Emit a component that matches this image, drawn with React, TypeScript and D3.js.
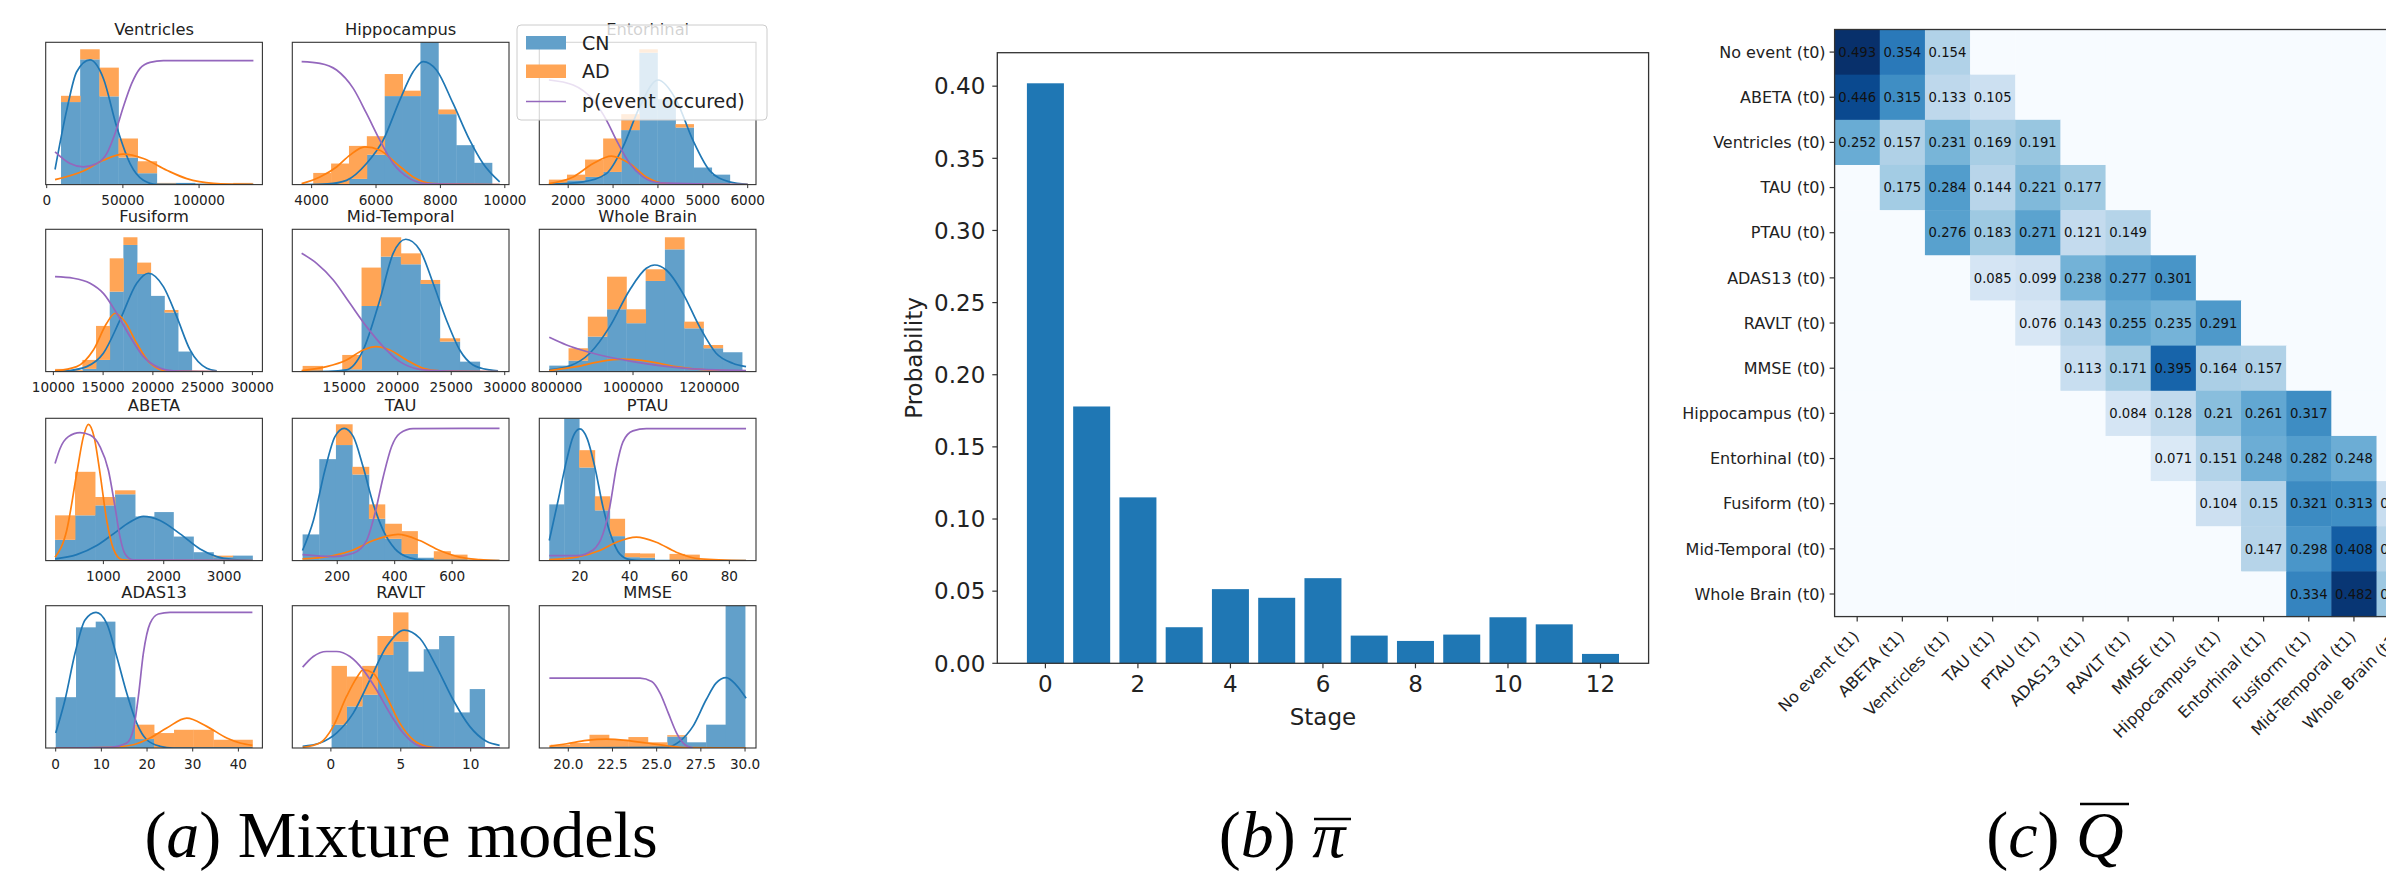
import React from "react";
import * as d3 from "d3";

// ---------- panel (a): mixture models ----------
const panelTitles = ["Ventricles", "Hippocampus", "Entorhinal", "Fusiform", "Mid-Temporal", "Whole Brain", "ABETA", "TAU", "PTAU", "ADAS13", "RAVLT", "MMSE"];

const panelDomains = [
  [-660, 141560], [3400, 10130], [1356, 6185],
  [9230, 31005], [10146, 30400], [754783, 1321739],
  [44, 3635], [43.5, 798], [3.73, 90.7],
  [-2.19, 45.26], [-2.76, 12.74], [18.36, 30.62],
];

const panelTicks = [
  [0, 50000, 100000], [4000, 6000, 8000, 10000], [2000, 3000, 4000, 5000, 6000],
  [10000, 15000, 20000, 25000, 30000], [15000, 20000, 25000, 30000], [800000, 1000000, 1200000],
  [1000, 2000, 3000], [200, 400, 600], [20, 40, 60, 80],
  [0, 10, 20, 30, 40], [0, 5, 10], [20, 22.5, 25, 27.5, 30],
];

const binEdges = [
  [9400, 21960, 34520, 47080, 59640, 72200, 84760, 97320, 109880, 122440, 135000],
  [4050, 4605, 5160, 5715, 6270, 6825, 7380, 7935, 8490, 9045, 9600],
  [1570, 1973, 2376, 2779, 3182, 3585, 3988, 4391, 4794, 5197, 5600],
  [10168, 11541, 12915, 14288, 15662, 17035, 18409, 19782, 21156, 22529, 23903],
  [11111, 12978, 14813, 16618, 18422, 20289, 22125, 23930, 25796, 27663],
  [780870, 831300, 881700, 932100, 982600, 1033000, 1083400, 1133900, 1184300, 1234700, 1285200],
  [199, 530, 862, 1193, 1525, 1845, 2160, 2492, 2823, 3144, 3470],
  [79.4, 137.4, 195.4, 252.2, 310.1, 365.8, 423.8, 479.4, 536.2, 594.2, 652.2],
  [7.73, 13.73, 19.73, 26, 32, 38, 44, 50, 56, 62, 68],
  [0, 4.45, 8.76, 12.99, 17.37, 21.53, 25.91, 30.15, 34.53, 38.76, 43.07],
  [0.05, 1.12, 2.24, 3.33, 4.45, 5.52, 6.64, 7.74, 8.81, 9.93, 11],
  [19, 20.1, 21.2, 22.3, 23.4, 24.5, 25.6, 26.7, 27.8, 28.9, 30],
];

// bar heights as a share of the axes height (CN at the bottom, AD stacked on it)
const cnCounts = [
  [0.58, 0.88, 0.62, 0.19, 0.08, 0.005, 0.012, 0, 0, 0],
  [0, 0, 0.04, 0.21, 0.622, 0.622, 1.05, 0.495, 0.277, 0.153],
  [0.01, 0.03, 0.054, 0.089, 0.383, 0.927, 0.6, 0.401, 0.12, 0.07],
  [0, 0, 0.019, 0.082, 0.562, 0.89, 0.686, 0.532, 0.415, 0.141],
  [0, 0, 0.016, 0.461, 0.808, 0.754, 0.616, 0.211, 0.07],
  [0.042, 0.077, 0.246, 0.438, 0.34, 0.637, 0.859, 0.304, 0.164, 0.136],
  [0.146, 0.318, 0.388, 0.466, 0.31, 0.341, 0.169, 0.059, 0.024, 0.035],
  [0.184, 0.713, 0.812, 0.605, 0.294, 0.153, 0.047, 0.02, 0, 0],
  [0.395, 1.03, 0.654, 0.353, 0.172, 0.024, 0.02, 0, 0, 0],
  [0.357, 0.848, 0.888, 0.357, 0.063, 0, 0, 0, 0, 0],
  [0.164, 0.292, 0.374, 0.654, 0.748, 0.537, 0.694, 0.787, 0.25, 0.414],
  [0, 0, 0, 0, 0, 0, 0.08, 0.04, 0.164, 1.05],
];

const adCounts = [
  [0.044, 0.071, 0.202, 0.134, 0.084, 0.007, 0, 0.005, 0, 0.012],
  [0.082, 0.148, 0.232, 0.13, 0.155, 0.038, 0, 0.033, 0, 0],
  [0.025, 0.04, 0.122, 0.235, 0.112, 0.024, 0, 0.024, 0, 0],
  [0.019, 0.01, 0.063, 0.239, 0.234, 0.054, 0.08, 0, 0.018, 0],
  [0.04, 0, 0.101, 0.27, 0.136, 0.077, 0.028, 0.023, 0],
  [0, 0.087, 0.14, 0.229, 0.098, 0.082, 0.085, 0.047, 0.023, 0],
  [0.172, 0.306, 0.059, 0.028, 0, 0, 0, 0, 0.011, 0],
  [0, 0, 0.146, 0.054, 0.101, 0.106, 0.16, 0, 0.066, 0.042],
  [0, 0, 0.122, 0.099, 0.122, 0.028, 0.03, 0, 0.047, 0.042],
  [0, 0, 0, 0, 0.101, 0.105, 0.128, 0.128, 0.058, 0.058],
  [0.413, 0.21, 0.203, 0.133, 0.205, 0, 0, 0, 0, 0],
  [0.023, 0.035, 0.093, 0.058, 0.077, 0.04, 0.01, 0, 0, 0],
];

// fitted CN density as [value, share of axes height]
const cnCurves = [
  [[5470, 0.106], [13130, 0.523], [19690, 0.793], [28440, 0.876], [37200, 0.746], [45950, 0.406], [54700, 0.148], [63450, 0.031], [72200, 0.002], [135660, 0]],
  [[3690, 0], [4500, 0.005], [5085, 0.03], [5705, 0.148], [6222, 0.312], [6739, 0.594], [7153, 0.793], [7462, 0.864], [7876, 0.805], [8393, 0.57], [8910, 0.312], [9323, 0.148], [9840, 0.019]],
  [[1570, 0.002], [2333, 0.019], [2852, 0.077], [3222, 0.265], [3593, 0.547], [4000, 0.735], [4407, 0.594], [4778, 0.312], [5148, 0.1], [5593, 0.019], [6000, 0.002]],
  [[10168, 0], [11340, 0.005], [13350, 0.035], [15025, 0.129], [16700, 0.363], [18375, 0.621], [19548, 0.691], [21055, 0.597], [22395, 0.386], [23735, 0.152], [25410, 0.023], [26415, 0.005]],
  [[11018, 0], [13500, 0.002], [15218, 0.012], [16773, 0.152], [18329, 0.504], [19574, 0.831], [20756, 0.93], [22063, 0.855], [23307, 0.621], [24552, 0.363], [25796, 0.152], [27041, 0.047], [28597, 0.012], [29375, 0.005]],
  [[780870, 0.012], [834783, 0.04], [886957, 0.129], [939130, 0.316], [991304, 0.574], [1034783, 0.726], [1056522, 0.749], [1086957, 0.714], [1130435, 0.55], [1173913, 0.316], [1217391, 0.129], [1260870, 0.059], [1295652, 0.035]],
  [[199, 0.012], [558, 0.042], [890, 0.106], [1166, 0.188], [1442, 0.271], [1663, 0.311], [1939, 0.282], [2271, 0.188], [2602, 0.082], [2878, 0.028], [3155, 0.007], [3470, 0]],
  [[79, 0.071], [117, 0.282], [157, 0.635], [192, 0.871], [224, 0.929], [256, 0.871], [290, 0.659], [325, 0.4], [360, 0.212], [401, 0.082], [453, 0.019], [511, 0.002], [765, 0]],
  [[7.73, 0.141], [11.3, 0.424], [14.7, 0.706], [17.3, 0.871], [20, 0.925], [22.9, 0.859], [26, 0.659], [29.3, 0.376], [32.7, 0.165], [36, 0.047], [40, 0.007], [45.3, 0], [86.7, 0]],
  [[0, 0.105], [2.04, 0.339], [4.23, 0.666], [6.42, 0.9], [8.83, 0.953], [11.17, 0.876], [13.36, 0.643], [15.55, 0.386], [17.74, 0.175], [19.93, 0.058], [22.85, 0.012], [25.77, 0], [43.07, 0]],
  [[-2.02, 0.012], [-0.79, 0.035], [0.4, 0.105], [1.6, 0.245], [2.79, 0.479], [3.98, 0.713], [5.24, 0.829], [6.36, 0.771], [7.55, 0.572], [8.74, 0.339], [9.93, 0.152], [11.12, 0.047], [12.07, 0.019]],
  [[18.93, 0], [25.55, 0.005], [26.3, 0.047], [27.05, 0.152], [27.8, 0.339], [28.36, 0.456], [28.93, 0.495], [29.49, 0.444], [30.06, 0.35]],
];

const adCurves = [
  [[5470, 0.035], [24070, 0.096], [37200, 0.171], [50320, 0.214], [63450, 0.183], [78770, 0.101], [91900, 0.042], [109400, 0.009], [135660, 0]],
  [[3690, 0.007], [4258, 0.054], [4775, 0.124], [5189, 0.207], [5654, 0.265], [6119, 0.242], [6636, 0.148], [7153, 0.054], [7773, 0.007], [9840, 0]],
  [[1570, 0.007], [2111, 0.054], [2556, 0.148], [2963, 0.2], [3370, 0.148], [3741, 0.054], [4185, 0.007], [6000, 0]],
  [[10168, 0.005], [12345, 0.035], [14020, 0.152], [15360, 0.34], [16198, 0.41], [17203, 0.351], [18375, 0.199], [19715, 0.059], [21390, 0.005], [26415, 0]],
  [[11018, 0.007], [13351, 0.035], [15218, 0.082], [16773, 0.152], [17956, 0.176], [19263, 0.152], [20818, 0.082], [22374, 0.023], [23930, 0.005], [29375, 0]],
  [[780870, 0.007], [852174, 0.035], [913043, 0.07], [973913, 0.087], [1043478, 0.07], [1113043, 0.035], [1191304, 0.012], [1295652, 0.002]],
  [[199, 0.024], [392, 0.212], [558, 0.612], [669, 0.871], [751, 0.958], [845, 0.871], [945, 0.612], [1055, 0.282], [1166, 0.082], [1304, 0.007], [1497, 0], [3470, 0]],
  [[79, 0.012], [186, 0.035], [256, 0.075], [325, 0.141], [412, 0.184], [487, 0.141], [557, 0.071], [626, 0.024], [696, 0.007], [765, 0]],
  [[7.73, 0.007], [18.7, 0.024], [28, 0.071], [34.7, 0.129], [42.7, 0.165], [50.7, 0.129], [58.7, 0.059], [68, 0.012], [86.7, 0]],
  [[0, 0], [11.9, 0.005], [17, 0.023], [20.66, 0.07], [24.31, 0.14], [28.69, 0.21], [33.07, 0.152], [37.45, 0.07], [40.36, 0.035], [43.07, 0.019]],
  [[-2.02, 0.005], [-0.79, 0.035], [0.17, 0.152], [1.12, 0.362], [1.83, 0.491], [2.31, 0.549], [3.02, 0.526], [3.98, 0.362], [4.93, 0.175], [5.88, 0.058], [6.83, 0.012], [7.79, 0], [12.07, 0]],
  [[18.93, 0.012], [19.91, 0.03], [21.03, 0.054], [22.16, 0.063], [23.28, 0.054], [24.41, 0.035], [25.55, 0.016], [26.67, 0.002], [30.06, 0]],
];

const eventCurves = [
  [[5470, 0.23], [15320, 0.148], [24070, 0.124], [32820, 0.148], [39380, 0.218], [44850, 0.359], [50320, 0.547], [55790, 0.711], [61260, 0.817], [67830, 0.859], [76580, 0.871], [135660, 0.871]],
  [[3690, 0.864], [4258, 0.852], [4775, 0.805], [5292, 0.676], [5705, 0.5], [6119, 0.312], [6532, 0.148], [7049, 0.042], [7566, 0.007], [9840, 0]],
  [[1570, 0.735], [2111, 0.7], [2556, 0.594], [2852, 0.453], [3074, 0.312], [3370, 0.148], [3667, 0.054], [4037, 0.012], [6000, 0]],
  [[10168, 0.667], [12010, 0.656], [13685, 0.621], [15025, 0.55], [16365, 0.41], [17705, 0.246], [19045, 0.105], [20385, 0.035], [22060, 0.005], [26415, 0]],
  [[11018, 0.831], [12418, 0.761], [13974, 0.644], [15529, 0.48], [17085, 0.316], [18640, 0.176], [20196, 0.07], [22063, 0.016], [23930, 0.005], [29375, 0]],
  [[780870, 0.241], [826087, 0.187], [878261, 0.141], [939130, 0.101], [1000000, 0.07], [1069565, 0.042], [1139130, 0.023], [1217391, 0.012], [1295652, 0.007]],
  [[199, 0.682], [282, 0.788], [420, 0.871], [613, 0.899], [779, 0.882], [945, 0.8], [1083, 0.635], [1193, 0.376], [1276, 0.165], [1359, 0.047], [1497, 0.005], [3470, 0]],
  [[79, 0.042], [186, 0.028], [256, 0.052], [302, 0.141], [331, 0.329], [360, 0.588], [389, 0.8], [418, 0.894], [464, 0.927], [765, 0.929]],
  [[7.73, 0.035], [18.7, 0.035], [25.3, 0.075], [29.3, 0.188], [32, 0.376], [34.7, 0.659], [37.3, 0.835], [41.3, 0.912], [46.7, 0.927], [86.7, 0.927]],
  [[0, 0], [11.9, 0.005], [15.55, 0.035], [17, 0.128], [18.1, 0.362], [19.2, 0.666], [20.66, 0.876], [22.48, 0.942], [25.04, 0.953], [43.07, 0.953]],
  [[-2.02, 0.568], [-1.26, 0.643], [-0.31, 0.678], [0.4, 0.678], [1.36, 0.643], [2.31, 0.549], [3.26, 0.409], [4.21, 0.245], [5.17, 0.105], [6.12, 0.023], [7.07, 0], [12.07, 0]],
  [[18.93, 0.491], [21.8, 0.491], [24.06, 0.491], [24.72, 0.467], [25.19, 0.386], [25.66, 0.245], [26.13, 0.105], [26.6, 0.023], [27.05, 0]],
];

const legendLabels = ["CN", "AD", "p(event occured)"];

// ---------- panel (b): stage probabilities ----------
const stages = [0, 1, 2, 3, 4, 5, 6, 7, 8, 9, 10, 11, 12];
const stageProbs = [0.402, 0.178, 0.115, 0.025, 0.0514, 0.0454, 0.059, 0.0192, 0.0155, 0.0199, 0.0319, 0.027, 0.0065];
const stageTicks = [0, 2, 4, 6, 8, 10, 12];
const probTicks = [0, 0.05, 0.1, 0.15, 0.2, 0.25, 0.3, 0.35, 0.4];

// ---------- panel (c): transition matrix ----------
const eventNames = ["No event", "ABETA", "Ventricles", "TAU", "PTAU", "ADAS13", "RAVLT", "MMSE", "Hippocampus", "Entorhinal", "Fusiform", "Mid-Temporal", "Whole Brain"];
const qStart = [0, 0, 0, 1, 2, 3, 4, 5, 6, 7, 8, 9, 10];
const qValues = [
  [0.493, 0.354, 0.154],
  [0.446, 0.315, 0.133, 0.105],
  [0.252, 0.157, 0.231, 0.169, 0.191],
  [0.175, 0.284, 0.144, 0.221, 0.177],
  [0.276, 0.183, 0.271, 0.121, 0.149],
  [0.085, 0.099, 0.238, 0.277, 0.301],
  [0.076, 0.143, 0.255, 0.235, 0.291],
  [0.113, 0.171, 0.395, 0.164, 0.157],
  [0.084, 0.128, 0.21, 0.261, 0.317],
  [0.071, 0.151, 0.248, 0.282, 0.248],
  [0.104, 0.15, 0.321, 0.313, 0.112],
  [0.147, 0.298, 0.408, 0.147],
  [0.334, 0.482, 0.184],
];

const SANS = "'DejaVu Sans', Verdana, sans-serif";
const SERIF = "'Liberation Serif', 'DejaVu Serif', serif";
const BLUE = "#1f77b4";
const ORANGE = "#ff7f0e";
const PURPLE = "#9467bd";
const CN_FILL = "#62a0ca";
const AD_FILL = "#ffa556";
const AXIS = "#333";

const colLeft = [45.7, 292.3, 539.3];
const rowTop = [42.3, 229.3, 418.3, 605.7];
const subW = 216.7;
const subH = 142.3;

function Mixture({ idx }: { idx: number }) {
  const left = colLeft[idx % 3];
  const top = rowTop[Math.floor(idx / 3)];
  const x = d3.scaleLinear().domain(panelDomains[idx]).range([left, left + subW]);
  const y = d3.scaleLinear().domain([0, 1]).range([top + subH, top]);
  const edges = binEdges[idx];
  const line = d3.line<number[]>().x(d => x(d[0])).y(d => y(d[1])).curve(d3.curveMonotoneX);
  const fmt = idx === 11 ? d3.format(".1f") : d3.format("d");
  const cid = `mix-clip-${idx}`;
  return (
    <g>
      <clipPath id={cid}>
        <rect x={left} y={top} width={subW} height={subH} />
      </clipPath>
      <g clipPath={`url(#${cid})`}>
        {cnCounts[idx].map((c, k) => c > 0 && (
          <rect key={`cn${k}`} x={x(edges[k])} width={x(edges[k + 1]) - x(edges[k]) + 0.4}
            y={y(c)} height={y(0) - y(c)} fill={CN_FILL} />
        ))}
        {adCounts[idx].map((a, k) => {
          const base = cnCounts[idx][k];
          if (a <= 0) return null;
          return (
            <rect key={`ad${k}`} x={x(edges[k])} width={x(edges[k + 1]) - x(edges[k]) + 0.4}
              y={y(base + a)} height={y(base) - y(base + a)} fill={AD_FILL} />
          );
        })}
        <path d={line(cnCurves[idx]) || ""} fill="none" stroke={BLUE} strokeWidth={1.7} />
        <path d={line(adCurves[idx]) || ""} fill="none" stroke={ORANGE} strokeWidth={1.7} />
        <path d={line(eventCurves[idx]) || ""} fill="none" stroke={PURPLE} strokeWidth={1.7} />
      </g>
      <rect x={left} y={top} width={subW} height={subH} fill="none" stroke={AXIS} strokeWidth={1.1} />
      {panelTicks[idx].map(t => (
        <g key={t}>
          <line x1={x(t)} x2={x(t)} y1={top + subH} y2={top + subH + 3.5} stroke={AXIS} strokeWidth={1} />
          <text x={x(t)} y={top + subH + 20.5} textAnchor="middle" fontFamily={SANS} fontSize={13.6} fill="#222">{fmt(t)}</text>
        </g>
      ))}
      <text x={left + subW / 2} y={top - 7.5} textAnchor="middle" fontFamily={SANS} fontSize={16.3} fill="#222">{panelTitles[idx]}</text>
    </g>
  );
}

function Legend() {
  const lx = 517, ly = 25;
  const rowsY = [43, 71.5, 101.5];
  return (
    <g>
      <rect x={lx} y={ly} width={250} height={95} rx={4} fill="#fff" fillOpacity={0.8} stroke="#ccc" strokeWidth={1} />
      <rect x={526} y={rowsY[0] - 7} width={40} height={13.5} fill={CN_FILL} />
      <rect x={526} y={rowsY[1] - 7} width={40} height={13.5} fill={AD_FILL} />
      <line x1={526} x2={566} y1={rowsY[2]} y2={rowsY[2]} stroke={PURPLE} strokeWidth={1.7} />
      {legendLabels.map((l, i) => (
        <text key={l} x={582} y={rowsY[i]} dy="0.35em" fontFamily={SANS} fontSize={19} fill="#222">{l}</text>
      ))}
    </g>
  );
}

function StagePanel() {
  const left = 997.3, right = 1648.6, top = 52.7, bottom = 663.3;
  const x = d3.scaleLinear().domain([-1.04, 13.04]).range([left, right]);
  const y = d3.scaleLinear().domain([0, 0.4232]).range([bottom, top]);
  const fmt = d3.format(".2f");
  return (
    <g>
      {stages.map((s, i) => (
        <rect key={s} x={x(s - 0.4)} width={x(s + 0.4) - x(s - 0.4)} y={y(stageProbs[i])}
          height={y(0) - y(stageProbs[i])} fill={BLUE} />
      ))}
      <rect x={left} y={top} width={right - left} height={bottom - top} fill="none" stroke={AXIS} strokeWidth={1.3} />
      {probTicks.map(t => (
        <g key={t}>
          <line x1={left - 5} x2={left} y1={y(t)} y2={y(t)} stroke={AXIS} strokeWidth={1.2} />
          <text x={left - 12} y={y(t)} dy="0.36em" textAnchor="end" fontFamily={SANS} fontSize={23} fill="#222">{fmt(t)}</text>
        </g>
      ))}
      {stageTicks.map(t => (
        <g key={t}>
          <line x1={x(t)} x2={x(t)} y1={bottom} y2={bottom + 5} stroke={AXIS} strokeWidth={1.2} />
          <text x={x(t)} y={bottom + 28.5} textAnchor="middle" fontFamily={SANS} fontSize={23} fill="#222">{t}</text>
        </g>
      ))}
      <text x={(left + right) / 2} y={725} textAnchor="middle" fontFamily={SANS} fontSize={23} fill="#222">Stage</text>
      <text transform={`translate(922,${(top + bottom) / 2}) rotate(-90)`} textAnchor="middle" fontFamily={SANS} fontSize={23} fill="#222">Probability</text>
    </g>
  );
}

function TransitionPanel() {
  const left = 1834.6, top = 29.5, cell = 45.16;
  const n = eventNames.length;
  const x = d3.scaleBand<number>().domain(d3.range(n)).range([left, left + n * cell]);
  const y = d3.scaleBand<number>().domain(d3.range(n)).range([top, top + n * cell]);
  const color = d3.scaleSequential(d3.interpolateBlues).domain([0, 0.493]);
  const matrix = eventNames.map((_, r) => eventNames.map((__, c) => {
    const k = c - qStart[r];
    return k >= 0 && k < qValues[r].length ? qValues[r][k] : 0;
  }));
  const bottom = top + n * cell;
  return (
    <g>
      {matrix.map((row, r) => row.map((v, c) => (
        <rect key={`${r}-${c}`} x={x(c)} y={y(r)} width={x.bandwidth() + 0.5} height={y.bandwidth() + 0.5} fill={color(v)} />
      )))}
      {matrix.map((row, r) => row.map((v, c) => v > 0 && (
        <text key={`t${r}-${c}`} x={(x(c) || 0) + cell / 2} y={(y(r) || 0) + cell / 2} dy="0.36em" textAnchor="middle"
          fontFamily={SANS} fontSize={13.2} fill="#111">{String(v)}</text>
      )))}
      <rect x={left} y={top} width={n * cell} height={n * cell} fill="none" stroke={AXIS} strokeWidth={1.3} />
      {eventNames.map((name, i) => {
        const cy = (y(i) || 0) + cell / 2;
        const cx = (x(i) || 0) + cell / 2;
        return (
          <g key={name}>
            <line x1={left - 5} x2={left} y1={cy} y2={cy} stroke={AXIS} strokeWidth={1.2} />
            <text x={left - 9} y={cy} dy="0.36em" textAnchor="end" fontFamily={SANS} fontSize={16} fill="#222">{`${name} (t0)`}</text>
            <line x1={cx} x2={cx} y1={bottom} y2={bottom + 5} stroke={AXIS} strokeWidth={1.2} />
            <text transform={`translate(${cx + 3},${bottom + 21}) rotate(-45)`} textAnchor="end" fontFamily={SANS} fontSize={16} fill="#222">{`${name} (t1)`}</text>
          </g>
        );
      })}
    </g>
  );
}

function Captions() {
  return (
    <g fontFamily={SERIF} fontSize={66} fill="#000">
      <text x={401} y={857} textAnchor="middle">
        <tspan>(</tspan><tspan fontStyle="italic">a</tspan><tspan>) Mixture models</tspan>
      </text>
      <text x={1282} y={857} textAnchor="middle">
        <tspan>(</tspan><tspan fontStyle="italic">b</tspan><tspan>) </tspan><tspan fontStyle="italic">π</tspan>
      </text>
      <line x1={1314} x2={1351} y1={819} y2={819} stroke="#000" strokeWidth={2.5} />
      <text x={2055} y={857} textAnchor="middle">
        <tspan>(</tspan><tspan fontStyle="italic">c</tspan><tspan>) </tspan><tspan fontStyle="italic">Q</tspan>
      </text>
      <line x1={2080} x2={2129} y1={804} y2={804} stroke="#000" strokeWidth={2.5} />
    </g>
  );
}

export default function App() {
  return (
    <div style={{ position: "absolute", left: 0, top: 0 }}>
      <svg width={2386} height={872} viewBox="0 0 2386 872" style={{ display: "block", background: "#fff" }}>
        <rect x={0} y={0} width={2386} height={872} fill="#fff" />
        {panelTitles.map((_, i) => <Mixture key={i} idx={i} />)}
        <Legend />
        <StagePanel />
        <TransitionPanel />
        <Captions />
      </svg>
    </div>
  );
}
